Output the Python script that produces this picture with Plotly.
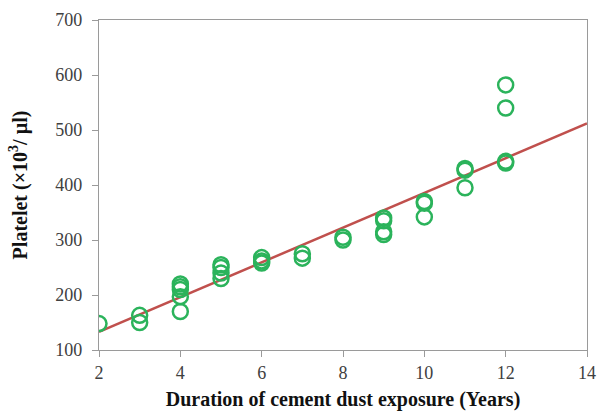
import plotly.graph_objects as go

years = [2, 3, 3, 4, 4, 4, 4, 4, 5, 5, 5, 5, 6, 6, 6, 7, 7, 8, 8,
         9, 9, 9, 9, 10, 10, 10, 11, 11, 11, 12, 12, 12, 12]
platelet = [148, 163, 150, 220, 215, 210, 197, 170, 255, 250, 240, 230,
            268, 262, 258, 275, 267, 305, 300, 340, 335, 315, 310,
            370, 367, 342, 430, 427, 395, 582, 540, 443, 440]

trend_x = [2, 14]
trend_y = [133, 512]

x_ticks = [2, 4, 6, 8, 10, 12, 14]
y_ticks = [100, 200, 300, 400, 500, 600, 700]

fig = go.Figure()
fig.add_trace(go.Scatter(
    x=trend_x, y=trend_y, mode="lines",
    line=dict(color="#c0504d", width=2.5), hoverinfo="skip", showlegend=False))
fig.add_trace(go.Scatter(
    x=years, y=platelet, mode="markers",
    marker=dict(symbol="circle-open", size=15, color="#2bb35b", line=dict(width=2.5)),
    showlegend=False))

axis_common = dict(
    showgrid=False, zeroline=False, showline=True, linecolor="#9a9a9a", linewidth=1.3,
    mirror=True, ticks="outside", ticklen=6, tickcolor="#9a9a9a", automargin=False,
    tickfont=dict(family="Liberation Serif", size=18, color="#404040"),
)
title_font = dict(family="Liberation Serif", size=20, color="#111111")
fig.update_xaxes(range=[2, 14], tickvals=x_ticks, **axis_common,
                 title=dict(text="<b>Duration of cement dust exposure (Years)</b>",
                            font=title_font, standoff=10))
fig.update_yaxes(range=[100, 700], tickvals=y_ticks, **axis_common,
                 ticklabelstandoff=6,
                 title=dict(text="<b>Platelet (×10<sup>3</sup>/ µl)</b>",
                            font=title_font, standoff=22))
fig.update_layout(
    width=602, height=413,
    margin=dict(l=99, r=15, t=20, b=63),
    plot_bgcolor="white", paper_bgcolor="white",
)
fig.write_html("out.html", config={"displayModeBar": False},
               post_script="document.body.style.margin='0';document.body.style.overflow='hidden';")
